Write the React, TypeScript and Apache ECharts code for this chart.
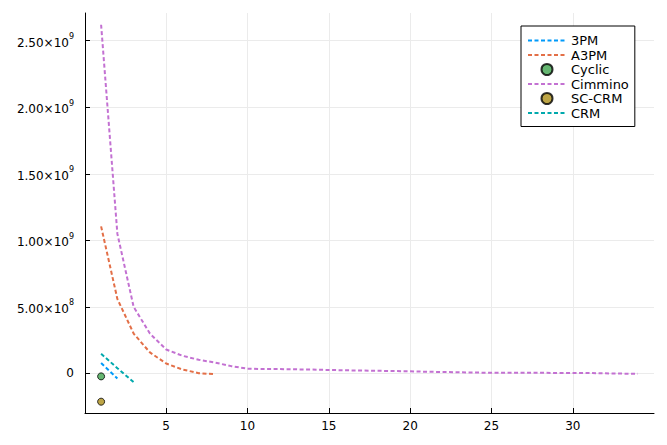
import React, { useEffect, useRef } from "react";
import * as echarts from "echarts";

const cimminoX = [1, 2, 3, 4, 5, 6, 7, 8, 9, 10, 11, 12, 13, 14, 15, 16, 17, 18, 19, 20, 21, 22, 23, 24, 25, 26, 27, 28, 29, 30, 31, 32, 33, 34];
const cimminoY = [2.62e9, 1.05e9, 5.0e8, 3.0e8, 1.8e8, 1.33e8, 1.03e8, 8.2e7, 5.5e7, 3.6e7, 3.3e7, 3.3e7, 3.1e7, 2.9e7, 2.6e7, 2.4e7, 2.2e7, 2.0e7, 1.8e7, 1.6e7, 1.3e7, 1.1e7, 9e6, 7e6, 5e6, 5e6, 5e6, 5e6, 4e6, 4e6, 3e6, 1e6, -1e6, -3e6];
const a3pmX = [1, 2, 3, 4, 5, 6, 7, 8];
const a3pmY = [1.105e9, 5.6e8, 3.0e8, 1.58e8, 7.5e7, 3.0e7, 2e6, -5e6];
const p3pmX = [1, 2];
const p3pmY = [7.8e7, -3.8e7];
const crmX = [1, 2, 3];
const crmY = [1.48e8, 4e7, -6.5e7];
const cyclicX = [1];
const cyclicY = [-2.2e7];
const scCrmX = [1];
const scCrmY = [-2.12e8];

const legendNames = ["3PM", "A3PM", "Cyclic", "Cimmino", "SC-CRM", "CRM"];
const lineNames = ["3PM", "A3PM", "Cimmino", "CRM"];
const xTicks = [5, 10, 15, 20, 25, 30];
const yTicks = [0, 5e8, 1e9, 1.5e9, 2e9, 2.5e9];

const FONT = "DejaVu Sans";
const pairs = (xs: number[], ys: number[]) => xs.map((x, i) => [x, ys[i]]);

const dash = [4, 2.5];

function fmtY(v: number): string {
  if (v === 0) return "0";
  const exp = Math.floor(Math.log10(Math.abs(v)) + 1e-9);
  const m = v / Math.pow(10, exp);
  return `{m|${m.toFixed(2)}×10}{e|${exp}}`;
}

export default function App() {
  const ref = useRef<HTMLDivElement>(null);
  useEffect(() => {
    if (!ref.current) return;
    const chart = echarts.init(ref.current, undefined, { renderer: "svg" });
    const lineSeries = (name: string, xs: number[], ys: number[], color: string) => ({
      name,
      type: "line",
      data: pairs(xs, ys),
      symbol: "none",
      color,
      lineStyle: { color, width: 2, type: dash },
      z: 3,
    });
    const scatterSeries = (name: string, xs: number[], ys: number[], color: string) => ({
      name,
      type: "scatter",
      data: pairs(xs, ys),
      symbol: "circle",
      symbolSize: 7,
      color,
      itemStyle: { color, borderColor: "#000", borderWidth: 1 },
      z: 4,
    });
    chart.setOption({
      animation: false,
      backgroundColor: "#fff",
      grid: { left: 85, right: 13, top: 13, bottom: 32, containLabel: false },
      xAxis: {
        type: "value",
        min: 0.01,
        max: 34.99,
        axisLine: { show: true, onZero: false, lineStyle: { color: "#000", width: 1 } },
        axisTick: { show: true, inside: true, length: 5, customValues: xTicks, lineStyle: { color: "#000" } },
        axisLabel: { customValues: xTicks, margin: 7, fontSize: 12, fontFamily: FONT, color: "#000" },
        splitLine: { show: true, lineStyle: { color: "#ebebeb", width: 1 } },
      },
      yAxis: {
        type: "value",
        min: -2.97e8,
        max: 2.708e9,
        axisLine: { show: true, onZero: false, lineStyle: { color: "#000", width: 1 } },
        axisTick: { show: true, inside: true, length: 5, customValues: yTicks, lineStyle: { color: "#000" } },
        axisLabel: {
          customValues: yTicks,
          margin: 11,
          fontSize: 12,
          fontFamily: FONT,
          color: "#000",
          formatter: fmtY,
          rich: {
            m: { fontSize: 12, fontFamily: FONT, color: "#000", lineHeight: 16, verticalAlign: "bottom" },
            e: { fontSize: 8, fontFamily: FONT, color: "#000", lineHeight: 10, verticalAlign: "top" },
          },
        },
        splitLine: { show: true, lineStyle: { color: "#ebebeb", width: 1 } },
      },
      legend: {
        orient: "vertical",
        left: 521,
        top: 26,
        padding: [8, 6, 7, 6],
        itemGap: 1.5,
        itemWidth: 38,
        itemHeight: 11,
        backgroundColor: "#fff",
        borderColor: "#000",
        borderWidth: 1,
        borderRadius: 0,
        textStyle: { fontSize: 13, fontFamily: FONT, color: "#000" },
        data: legendNames.map((n) =>
          lineNames.includes(n) ? { name: n, itemStyle: { opacity: 0 } } : { name: n }
        ),
      },
      series: [
        lineSeries("3PM", p3pmX, p3pmY, "#009AFA"),
        lineSeries("A3PM", a3pmX, a3pmY, "#E36F47"),
        scatterSeries("Cyclic", cyclicX, cyclicY, "#3EA44E"),
        lineSeries("Cimmino", cimminoX, cimminoY, "#C371D2"),
        scatterSeries("SC-CRM", scCrmX, scCrmY, "#AC8E18"),
        lineSeries("CRM", crmX, crmY, "#00A9AD"),
      ],
    });
    return () => chart.dispose();
  }, []);
  return <div ref={ref} style={{ position: "fixed", left: 0, top: 0, width: 667, height: 445 }} />;
}
